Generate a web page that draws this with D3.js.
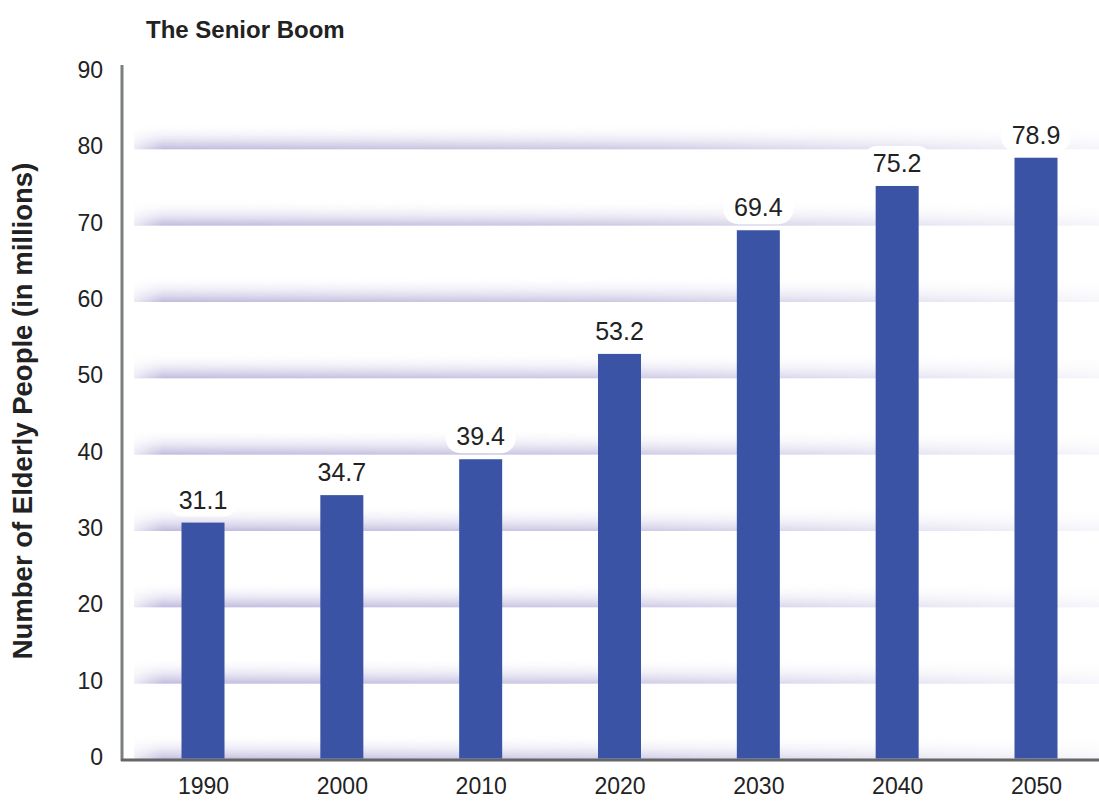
<!DOCTYPE html>
<html><head><meta charset="utf-8">
<script src="https://cdn.jsdelivr.net/npm/d3@7"></script>
<style>body{margin:0;background:#fff;font-family:"Liberation Sans",Arial,sans-serif;}</style>
</head><body>
<svg id="c" width="1099" height="804"></svg>
<script>
const years = ["1990","2000","2010","2020","2030","2040","2050"];
const values = [31.1,34.7,39.4,53.2,69.4,75.2,78.9];
const yTicks = [0,10,20,30,40,50,60,70,80,90];
const title = "The Senior Boom";
const yTitle = "Number of Elderly People (in millions)";

const FONT = "Liberation Sans, Arial, sans-serif";
const svg = d3.select("#c");
const y = d3.scaleLinear().domain([0,90]).range([760,73]);
const x = d3.scalePoint().domain(years).range([203,1036]);
const barW = 43;

const defs = svg.append("defs");
const vg = defs.append("linearGradient").attr("id","vg").attr("x1",0).attr("y1",0).attr("x2",0).attr("y2",1);
vg.append("stop").attr("offset","0").attr("stop-color","#ffffff").attr("stop-opacity",0);
vg.append("stop").attr("offset","0.55").attr("stop-color","#e2e0f0").attr("stop-opacity",0.65);
vg.append("stop").attr("offset","1").attr("stop-color","#bfbadd").attr("stop-opacity",1);
const hg = defs.append("linearGradient").attr("id","hg").attr("x1",0).attr("y1",0).attr("x2",1).attr("y2",0);
hg.append("stop").attr("offset","0").attr("stop-color","#fff").attr("stop-opacity",0.3);
hg.append("stop").attr("offset","0.03").attr("stop-color","#fff").attr("stop-opacity",1);
hg.append("stop").attr("offset","0.5").attr("stop-color","#fff").attr("stop-opacity",0.8);
hg.append("stop").attr("offset","1").attr("stop-color","#fff").attr("stop-opacity",0.15);
const mask = defs.append("mask").attr("id","hm").attr("maskUnits","userSpaceOnUse")
  .attr("x",0).attr("y",0).attr("width",1099).attr("height",804);
mask.append("rect").attr("x",134).attr("y",0).attr("width",965).attr("height",804).attr("fill","url(#hg)");

// bands
svg.append("g").attr("mask","url(#hm)").selectAll("rect").data(yTicks.filter(d=>d<90)).join("rect")
  .attr("x",134).attr("width",965)
  .attr("y",d=>y(d)-26).attr("height",26)
  .attr("fill","url(#vg)");

// axes lines
svg.append("line").attr("x1",122).attr("x2",122).attr("y1",y(90)-8).attr("y2",y(0)+1)
  .attr("stroke","#7a7f7f").attr("stroke-width",3);
svg.append("line").attr("x1",121).attr("x2",1099).attr("y1",y(0)).attr("y2",y(0))
  .attr("stroke","#666").attr("stroke-width",3);

// bars
svg.append("g").selectAll("rect").data(values).join("rect")
  .attr("x",(d,i)=>x(years[i])-barW/2).attr("width",barW)
  .attr("y",d=>y(d)).attr("height",d=>y(0)-y(d)-1.5)
  .attr("fill","#3a53a4");

// value labels
const lg = svg.append("g").selectAll("g").data(values).join("g")
  .attr("transform",(d,i)=>`translate(${x(years[i])},${y(d)-23})`);
lg.append("rect").attr("x",-35).attr("y",-17).attr("width",70).attr("height",34).attr("rx",15)
  .attr("fill","#fff");
lg.append("text").attr("text-anchor","middle").attr("dy","0.36em")
  .attr("font-size",25).attr("font-family",FONT).attr("fill","#222").text(d=>d.toFixed(1));

// y tick labels
const ya = d3.axisLeft(y).tickValues(yTicks).tickSize(0).tickPadding(19);
const yg = svg.append("g").attr("transform","translate(122,-3)").call(ya);
yg.select(".domain").remove();
yg.selectAll("text").attr("font-size",23).attr("font-family",FONT).attr("fill","#222");

// x tick labels
const xa = d3.axisBottom(x).tickSize(0).tickPadding(18);
const xg = svg.append("g").attr("transform",`translate(0,${y(0)})`).call(xa);
xg.select(".domain").remove();
xg.selectAll("text").attr("font-size",23).attr("font-family",FONT).attr("fill","#222");

// titles
svg.append("text").attr("x",146).attr("y",38).attr("font-size",24).attr("font-weight","bold")
  .attr("font-family",FONT).attr("fill","#222").text(title);
svg.append("text").attr("transform","translate(32,411) rotate(-90)").attr("text-anchor","middle")
  .attr("font-size",27.5).attr("font-weight","bold").attr("font-family",FONT).attr("fill","#222").text(yTitle);
</script>
</body></html>
